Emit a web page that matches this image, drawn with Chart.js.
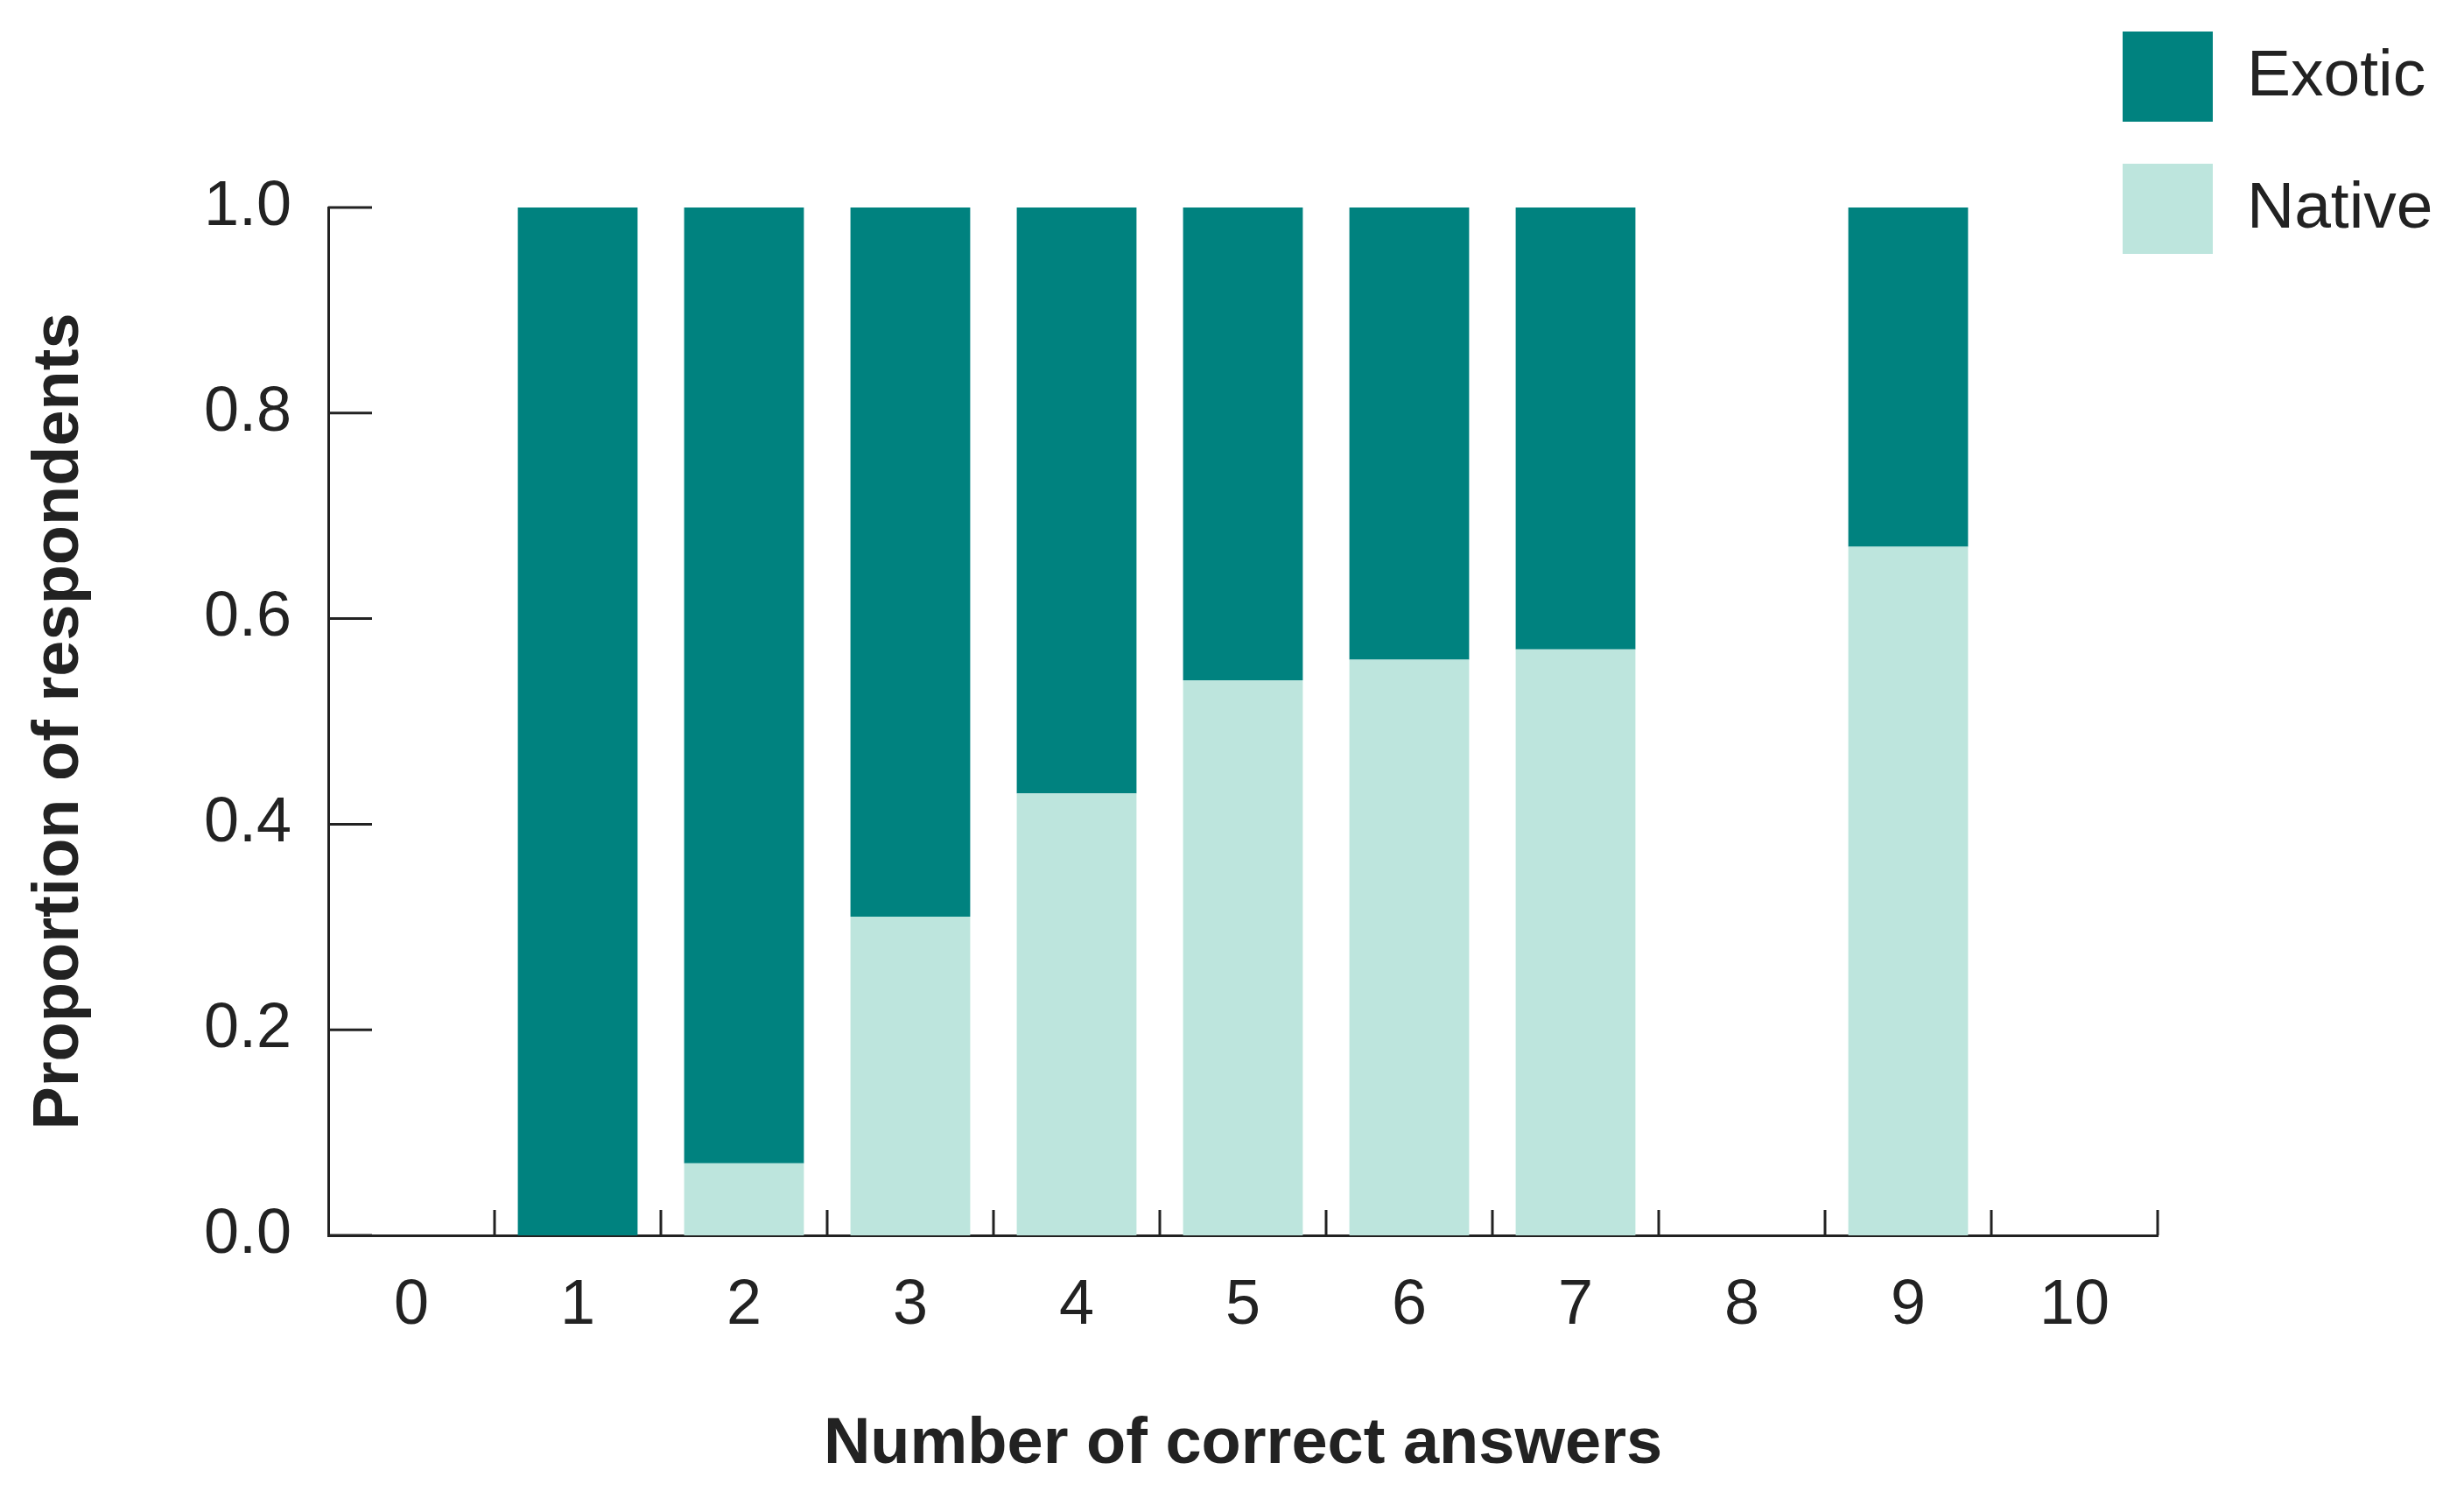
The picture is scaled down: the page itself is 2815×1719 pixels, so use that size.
<!DOCTYPE html>
<html><head><meta charset="utf-8">
<script src="https://cdn.jsdelivr.net/npm/chart.js@4"></script>
<style>html,body{margin:0;padding:0;background:#fff}#w{position:relative;width:2815px;height:1719px}</style>
</head><body><div id="w"><canvas id="c" width="2815" height="1719"></canvas></div>
<script>
const categories = ["0","1","2","3","4","5","6","7","8","9","10"];
const nativeValues = [0,0,0.07,0.31,0.43,0.54,0.56,0.57,0,0.67,0];
const exoticValues = [0,1,0.93,0.69,0.57,0.46,0.44,0.43,0,0.33,0];
const yTicks = [0,0.2,0.4,0.6,0.8,1.0];
const FONT = "'Liberation Sans', Arial, sans-serif";

const tickPlugin = {
  id:'ticks',
  afterDraw(ch){
    const ctx=ch.ctx, x=ch.scales.x, y=ch.scales.y;
    ctx.save(); ctx.strokeStyle='#222'; ctx.lineWidth=3;
    ctx.beginPath();
    yTicks.forEach(v=>{const p=y.getPixelForValue(v); ctx.moveTo(x.left,p); ctx.lineTo(x.left+50,p);});
    for(let i=0;i<=categories.length;i++){
      const p = x.getPixelForValue(i-0.5);
      if(i===0) continue;
      ctx.moveTo(p,y.bottom); ctx.lineTo(p,y.bottom-29);
    }
    ctx.stroke();
    // legend
    const items=[['Exotic','#00827f',36],['Native','#bde5dd',187]];
    ctx.font='75px '+FONT; ctx.fillStyle='#222'; ctx.textBaseline='middle';
    items.forEach(([t,c,top])=>{ctx.fillStyle=c; ctx.fillRect(2425,top,103,103); ctx.fillStyle='#222'; ctx.fillText(t,2567,top+52);});
    ctx.restore();
  }
};

new Chart(document.getElementById('c'),{
  type:'bar',
  data:{labels:categories,datasets:[
    {label:'Native',data:nativeValues,backgroundColor:'#bde5dd',barPercentage:0.72,categoryPercentage:1},
    {label:'Exotic',data:exoticValues,backgroundColor:'#00827f',barPercentage:0.72,categoryPercentage:1}
  ]},
  options:{
    responsive:false,animation:false,
    layout:{padding:{left:20,top:237,right:350,bottom:20}},
    plugins:{legend:{display:false},tooltip:{enabled:false}},
    scales:{
      x:{stacked:true,grid:{display:false},border:{display:true,color:'#222',width:3},
        ticks:{color:'#222',font:{size:72,family:FONT},padding:30,maxRotation:0},
        title:{display:true,text:'Number of correct answers',color:'#222',font:{size:74,weight:'bold',family:FONT},padding:{top:50}},
        afterFit(s){s.height=1719-1411-20;}},
      y:{stacked:true,min:0,max:1,grid:{display:false},border:{display:true,color:'#222',width:3},
        afterBuildTicks(s){s.ticks=yTicks.map(v=>({value:v}));},
        ticks:{color:'#222',font:{size:72,family:FONT},padding:34,callback:v=>v.toFixed(1)},
        title:{display:true,text:'Proportion of respondents',color:'#222',font:{size:74,weight:'bold',family:FONT},padding:{bottom:40}},
        afterFit(s){s.width=375-20;}}
    }
  },
  plugins:[tickPlugin]
});
</script></body></html>
